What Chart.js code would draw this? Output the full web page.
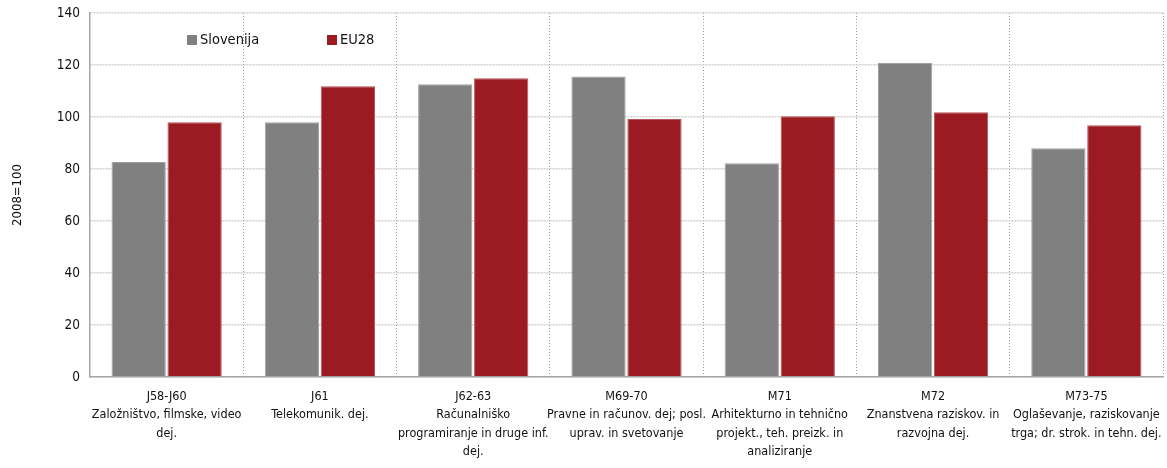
<!DOCTYPE html>
<html>
<head>
<meta charset="utf-8">
<script src="https://cdn.jsdelivr.net/npm/chart.js@4"></script>
<style>
  html, body { margin: 0; padding: 0; background: #fff; }
  #wrap { width: 1167px; height: 468px; }
</style>
</head>
<body>
<div id="wrap"><canvas id="myChart"></canvas></div>
<script>
const categories = [
  ["J58-J60", "Založništvo, filmske, video", "dej."],
  ["J61", "Telekomunik. dej."],
  ["J62-63", "Računalniško", "programiranje in druge inf.", "dej."],
  ["M69-70", "Pravne in računov. dej; posl.", "uprav. in svetovanje"],
  ["M71", "Arhitekturno in tehnično", "projekt., teh. preizk. in", "analiziranje"],
  ["M72", "Znanstvena raziskov. in", "razvojna dej."],
  ["M73-75", "Oglaševanje, raziskovanje", "trga; dr. strok. in tehn. dej."]
];
const slovenija = [82.7, 98.0, 112.6, 115.6, 82.2, 120.8, 88.0];
const eu28 = [98.0, 111.8, 114.9, 99.2, 100.3, 101.8, 96.8];
const yTicks = [0, 20, 40, 60, 80, 100, 120, 140];

const FONT = "'Liberation Sans Narrow', 'DejaVu Sans Condensed', sans-serif";

// legend drawn inside the plot, top left
const innerLegend = {
  id: 'innerLegend',
  afterDraw(chart) {
    const ctx = chart.ctx;
    const xs = [187, 327];
    ctx.save();
    ctx.font = '14.5px ' + FONT;
    ctx.textBaseline = 'middle';
    chart.data.datasets.forEach((ds, i) => {
      ctx.fillStyle = ds.backgroundColor;
      ctx.fillRect(xs[i], 35, 10, 10);
      ctx.fillStyle = '#111';
      ctx.fillText(ds.label, xs[i] + 13, 40);
    });
    ctx.restore();
  }
};

const ctx = document.getElementById('myChart').getContext('2d');
new Chart(ctx, {
  type: 'bar',
  data: {
    labels: categories,
    datasets: [
      { label: 'Slovenija', data: slovenija, backgroundColor: '#808080', borderColor: '#a0a0a0', borderWidth: 1 },
      { label: 'EU28', data: eu28, backgroundColor: '#9c1b22', borderColor: '#b5555a', borderWidth: 1 }
    ]
  },
  options: {
    responsive: true,
    maintainAspectRatio: false,
    animation: false,
    layout: { padding: { top: 13, right: 4, left: 0, bottom: 0 } },
    datasets: { bar: { categoryPercentage: 0.73, barPercentage: 0.97 } },
    plugins: {
      legend: { display: false },
      tooltip: { enabled: false }
    },
    scales: {
      x: {
        grid: { color: '#9a9a9a', lineWidth: 1, drawTicks: false, offset: true },
        border: { color: '#a6a6a6', width: 1.5, dash: [1, 2] },
        ticks: {
          color: '#111', font: { family: FONT, size: 12.5, lineHeight: 1.48 }, padding: 10,
          maxRotation: 0, autoSkip: false
        },
        afterFit(scale) {
          scale.height = 91;
          scale.paddingLeft = 0;
          scale.paddingRight = 0;
        }
      },
      y: {
        min: 0, max: 140,
        afterBuildTicks(scale) { scale.ticks = yTicks.map(v => ({ value: v })); },
        grid: { color: '#d0d0d0', lineWidth: 1.5, drawTicks: false },
        border: { color: '#a6a6a6', width: 1.5, dash: [2, 1] },
        ticks: { color: '#111', font: { family: FONT, size: 13.5 }, padding: 10 },
        title: {
          display: true, text: '2008=100', color: '#111',
          font: { family: FONT, size: 13 }, padding: { top: 10, bottom: 0 }
        },
        afterFit(scale) {
          scale.width = 90;
          scale.paddingTop = 0;
          scale.paddingBottom = 0;
        }
      }
    }
  },
  plugins: [innerLegend]
});
</script>
</body>
</html>
